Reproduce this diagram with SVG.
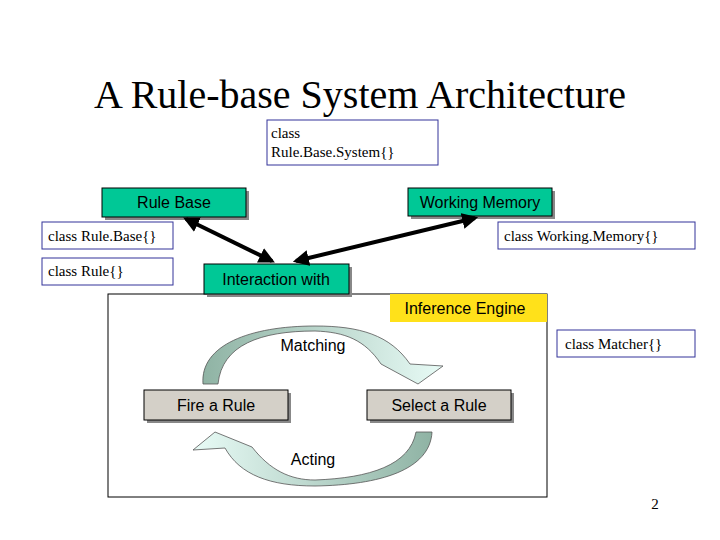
<svg xmlns="http://www.w3.org/2000/svg" width="720" height="540" viewBox="0 0 720 540">
<style>
.t{font-family:"Liberation Serif",serif;fill:#000}
.s{font-family:"Liberation Sans",Arial,sans-serif;fill:#000;font-size:16px;text-anchor:middle}
.cls{fill:#fff;stroke:#333399;stroke-width:1}
.g{fill:#00C896;stroke:#000;stroke-width:1}
.gr{fill:#D4D0C8;stroke:#000;stroke-width:1}
.sh{fill:#888}
.con{stroke:#000;stroke-width:4;fill:none;marker-start:url(#ah);marker-end:url(#ah)}
.band{fill:url(#bg);stroke:#555;stroke-width:0.8}
</style>
<defs>
<marker id="ah" viewBox="0 0 10 10" refX="8" refY="5" markerWidth="4" markerHeight="4" orient="auto-start-reverse"><path d="M0,0L10,5L0,10z" fill="#000"/></marker>
<linearGradient id="bg" x1="0" y1="0" x2="1" y2="0"><stop offset="0" stop-color="#8fb3a4"/><stop offset="1" stop-color="#e8fbf6"/></linearGradient>
<linearGradient id="bg2" x1="1" y1="0" x2="0" y2="0"><stop offset="0" stop-color="#8fb3a4"/><stop offset="1" stop-color="#e8fbf6"/></linearGradient>
</defs>
<rect width="720" height="540" fill="#fff"/>
<text class="t" x="360" y="108" font-size="40" text-anchor="middle">A Rule-base System Architecture</text>
<g id="sysclass"><rect class="cls" x="267" y="120" width="171" height="45"/><text class="t" font-size="15" x="271" y="138">class</text><text class="t" font-size="15" x="271" y="157">Rule.Base.System{}</text></g>
<g id="engine"><rect x="108" y="294" width="439" height="203" fill="#fff" stroke="#000"/></g>
<g id="inference"><rect x="390" y="294" width="157" height="28" fill="#FFE11A"/><text class="s" x="465" y="314">Inference Engine</text></g>
<g id="rulebase"><rect class="sh" x="105" y="191" width="144" height="29"/><rect class="g" x="102" y="188" width="144" height="29"/><text class="s" x="174" y="208">Rule Base</text></g>
<g id="wm"><rect class="sh" x="411" y="191" width="144" height="28"/><rect class="g" x="408" y="188" width="144" height="28"/><text class="s" x="480" y="208">Working Memory</text></g>
<g id="rbclass"><rect class="cls" x="42" y="222" width="131" height="27"/><text class="t" font-size="15" x="48" y="241">class Rule.Base{}</text></g>
<g id="rclass"><rect class="cls" x="42" y="258" width="131" height="27"/><text class="t" font-size="15" x="48" y="276">class Rule{}</text></g>
<g id="wmclass"><rect class="cls" x="498" y="222" width="197" height="27"/><text class="t" font-size="15" x="504" y="241">class Working.Memory{}</text></g>
<g id="interaction"><rect class="sh" x="207" y="267" width="145" height="30"/><rect class="g" x="204" y="264" width="145" height="30"/><text class="s" x="276" y="285">Interaction with</text></g>
<g id="matcher"><rect class="cls" x="557" y="330" width="138" height="27"/><text class="t" font-size="15" x="565" y="349">class Matcher{}</text></g>
<g id="fire"><rect class="sh" x="147" y="393" width="144" height="30"/><rect class="gr" x="144" y="390" width="144" height="30"/><text class="s" x="216" y="411">Fire a Rule</text></g>
<g id="select"><rect class="sh" x="370" y="393" width="144" height="30"/><rect class="gr" x="367" y="390" width="144" height="30"/><text class="s" x="439" y="411">Select a Rule</text></g>
<g id="connectors">
<line class="con" x1="186" y1="219" x2="272" y2="261"/>
<line class="con" x1="475" y1="218" x2="296" y2="261"/>
<path class="band" d="M203,384 C200,345 250,326 315,326 C360,326 390,335 410,364 L443,366 L418,384 L381,364 C365,340 345,332 315,331 C260,331 222,345 218,384 Z"/>
<path class="band" style="fill:url(#bg2)" d="M432,432 C430,470 380,485 315,486 C270,486 240,475 225,448 L193,450 L215,432 L252,447 C270,470 290,480 315,480 C370,478 410,465 416,432 Z"/>
</g>
<text class="s" x="313" y="351">Matching</text>
<text class="s" x="313" y="465">Acting</text>
<text class="t" font-size="15" x="655" y="509" text-anchor="middle">2</text>
</svg>
